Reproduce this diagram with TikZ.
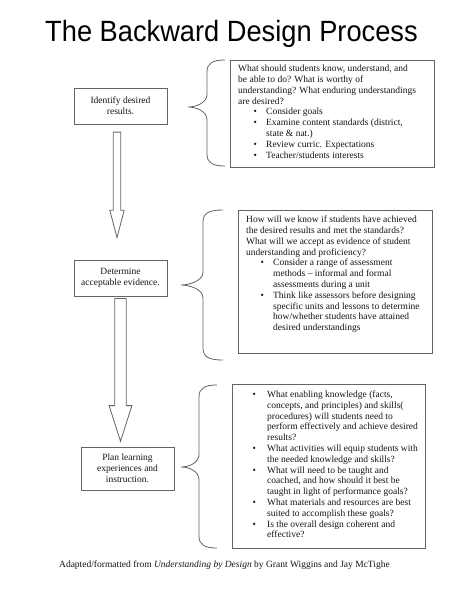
\documentclass[tikz,border=0pt]{standalone}
\usepackage{graphicx}
\usepackage{fontspec}
\setmainfont{Liberation Serif}
\newfontfamily\titlefont{Liberation Sans}
\usetikzlibrary{calc}
\definecolor{linec}{RGB}{100,100,100}
\definecolor{txtc}{RGB}{20,20,20}
\newcommand{\bul}[2]{\hspace*{#1}\makebox[\dimexpr#2-#1\relax][l]{\textbullet}}
\newcommand{\cnt}[1]{\hspace*{#1}}
\newcommand{\curly}[6]{%
  \draw[brc] (#1,#4) .. controls (#2+6,#4) and (#2,#4+3) .. (#2,#4+12)
    -- (#2,#5-13) .. controls (#2,#5-4) and (#3+8,#5) .. (#3,#5)
    .. controls (#3+8,#5) and (#2,#5+4) .. (#2,#5+13)
    -- (#2,#6-12) .. controls (#2,#6-3) and (#2+6,#6) .. (#1,#6);}
\newcommand{\blockarrow}[5]{%
  \draw[barrow] let \p1=(#1), \p2=(#2) in
    (\x1-#3,\y1) -- (\x1+#3,\y1) -- (\x1+#3,\y2+#5) -- (\x1+#4,\y2+#5)
    -- (\x2,\y2) -- (\x1-#4,\y2+#5) -- (\x1-#3,\y2+#5) -- cycle;}
\tikzset{
  lbox/.style={draw=linec, line width=0.8pt, minimum width=93pt, inner sep=1pt,
    align=center, text=txtc, font=\fontsize{9.5}{10.8}\selectfont},
  rbox/.style={draw=linec, line width=0.8pt, anchor=north west, inner sep=0pt},
  rtxt/.style={anchor=north west, inner sep=0pt, align=left, text=txtc,
    font=\fontsize{9.5}{10.8}\selectfont},
  brc/.style={draw=linec, line width=0.8pt},
  barrow/.style={draw=linec, line width=0.8pt, fill=white, line join=miter}
}
\begin{document}
\begin{tikzpicture}[x=1pt,y=-1pt]
\useasboundingbox (0,0) rectangle (474,614);
% title
\node[anchor=base, inner sep=0pt] (title) at (231.5,41.7)
  {\titlefont\fontsize{29.3}{31}\selectfont\scalebox{0.93}[1]{The Backward Design Process}};
% left boxes
\node[lbox, minimum height=36pt] (b1) at (120.5,106) {Identify desired\\results.};
\node[lbox, minimum height=36pt] (b2) at (120.5,278) {Determine\\acceptable evidence.};
\node[lbox, minimum height=43pt] (b3) at (127.5,468.5) {Plan learning\\experiences and\\instruction.};
% block arrows
\coordinate (a1s) at ([xshift=-3.5pt,yshift=-7.7pt]b1.south);
\coordinate (a1e) at ([xshift=-3.5pt,yshift=22pt]b2.north);
\blockarrow{a1s}{a1e}{3.7pt}{7.2pt}{27.3pt}
\coordinate (a2s) at ([yshift=-2pt]b2.south);
\coordinate (a2e) at ([xshift=-7pt,yshift=5.3pt]b3.north);
\blockarrow{a2s}{a2e}{5.8pt}{11.4pt}{35.7pt}
% right boxes
\node[rbox, minimum width=204pt, minimum height=107pt] (r1) at (230,60) {};
\node[rbox, minimum width=194pt, minimum height=143pt] (r2) at (238,210) {};
\node[rbox, minimum width=193pt, minimum height=164pt] (r3) at (232,384) {};
% texts in right boxes
\node[rtxt] (r1t) at (238,65) {%
What should students know, understand, and\\
be able to do? What is worthy of\\
understanding? What enduring understandings\\
are desired?\\
\bul{15.5pt}{28pt}Consider goals\\
\bul{15.5pt}{28pt}Examine content standards (district,\\
\cnt{28pt}state \& nat.)\\
\bul{15.5pt}{28pt}Review curric. Expectations\\
\bul{15.5pt}{28pt}Teacher/students interests};
\node[rtxt] (r2t) at (246,215.8) {%
How will we know if students have achieved\\
the desired results and met the standards?\\
What will we accept as evidence of student\\
understanding and proficiency?\\
\bul{14.5pt}{27pt}Consider a range of assessment\\
\cnt{27pt}methods – informal and formal\\
\cnt{27pt}assessments during a unit\\
\bul{14.5pt}{27pt}Think like assessors before designing\\
\cnt{27pt}specific units and lessons to determine\\
\cnt{27pt}how/whether students have attained\\
\cnt{27pt}desired understandings};
\node[rtxt] (r3t) at (232,390.7) {%
\bul{20.5pt}{35pt}What enabling knowledge (facts,\\
\cnt{35pt}concepts, and principles) and skills(\\
\cnt{35pt}procedures) will students need to\\
\cnt{35pt}perform effectively and achieve desired\\
\cnt{35pt}results?\\
\bul{20.5pt}{35pt}What activities will equip students with\\
\cnt{35pt}the needed knowledge and skills?\\
\bul{20.5pt}{35pt}What will need to be taught and\\
\cnt{35pt}coached, and how should it best be\\
\cnt{35pt}taught in light of performance goals?\\
\bul{20.5pt}{35pt}What materials and resources are best\\
\cnt{35pt}suited to accomplish these goals?\\
\bul{20.5pt}{35pt}Is the overall design coherent and\\
\cnt{35pt}effective?};
% braces
\curly{225}{207}{188}{60}{107}{166}
\curly{223}{203}{181}{210}{285}{360}
\curly{217}{199}{181}{385}{467}{548}
% footer
\node[anchor=base, inner sep=0pt, text=txtc, font=\fontsize{9.5}{11}\selectfont] (foot) at (224.5,567)
  {Adapted/formatted from \textit{Understanding by Design} by Grant Wiggins and Jay McTighe};
\end{tikzpicture}
\end{document}
